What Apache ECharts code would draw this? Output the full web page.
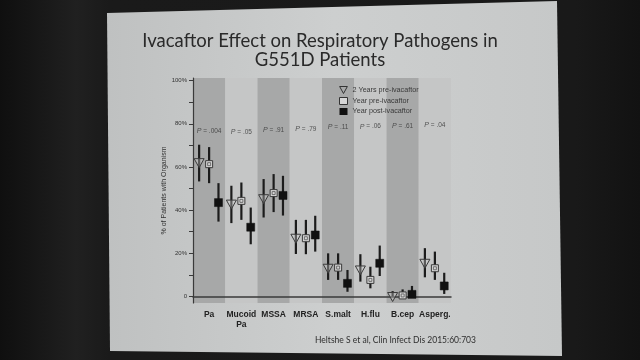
<!DOCTYPE html>
<html>
<head>
<meta charset="utf-8">
<script src="https://cdn.jsdelivr.net/npm/echarts@6/dist/echarts.min.js"></script>
<style>
html,body{margin:0;padding:0;background:#161616;}
#chart{width:640px;height:360px;}
</style>
</head>
<body>
<div id="chart"></div>
<script>
// ---- data ----
const categories = ['Pa', 'Mucoid\nPa', 'MSSA', 'MRSA', 'S.malt', 'H.flu', 'B.cep', 'Asperg.'];
const pLabels = ['.004', '.05', '.91', '.79', '.11', '.06', '.61', '.04'];
const pLabelY = [76.5, 76.2, 77.0, 77.6, 78.4, 78.7, 79.0, 79.5];

const seriesNames = ['2 Years pre-ivacaftor', 'Year pre-ivacaftor', 'Year post-ivacaftor'];

const pre2Mean = [62.0, 42.8, 45.3, 27.0, 13.1, 12.3, 0.0, 15.4];
const pre2Low  = [53.3, 34.0, 36.6, 19.7, 7.7, 6.9, 0.0, 8.9];
const pre2High = [70.3, 51.3, 54.4, 35.5, 20.0, 19.6, 2.5, 22.4];

const pre1Mean = [61.3, 44.3, 47.9, 27.0, 13.4, 7.7, 0.5, 13.1];
const pre1Low  = [52.5, 35.5, 39.1, 19.6, 7.7, 3.8, 0.0, 7.7];
const pre1High = [69.2, 52.8, 56.7, 35.5, 20.0, 13.8, 3.3, 20.8];

const postMean = [43.5, 32.1, 46.8, 28.5, 6.1, 15.4, 1.0, 4.9];
const postLow  = [34.7, 24.2, 37.5, 20.8, 2.2, 9.5, 0.0, 1.2];
const postHigh = [52.5, 41.2, 55.9, 37.4, 12.3, 23.6, 4.9, 11.0];

const yLabelValues = [0, 20, 40, 60, 80, 100];
const yTickValues = [0, 10, 20, 30, 40, 50, 60, 70, 80, 90, 100];

// ---- build ----
function rows(mean, low, high) {
  return mean.map((m, i) => [i, m, low[i], high[i]]);
}

function makeRender(kind, offsetFrac) {
  return function (params, api) {
    const i = api.value(0);
    const c = api.coord([i, api.value(1)]);
    const lo = api.coord([i, api.value(2)]);
    const hi = api.coord([i, api.value(3)]);
    const bw = api.size([1, 0])[0];
    const x = c[0] + offsetFrac * bw;
    const y = c[1];
    const children = [{
      type: 'line',
      shape: { x1: x, y1: hi[1], x2: x, y2: lo[1] },
      style: { stroke: '#1c1c1c', lineWidth: 2.2 }
    }];
    if (kind === 'tri') {
      children.push({
        type: 'polygon',
        shape: { points: [[x - 5, y - 4], [x + 5, y - 4], [x, y + 5]] },
        style: { fill: 'rgba(210,210,210,0.35)', stroke: '#3a3a3a', lineWidth: 1 }
      });
    } else if (kind === 'sq') {
      children.push({
        type: 'rect',
        shape: { x: x - 3.5, y: y - 3.5, width: 7, height: 7 },
        style: { fill: '#d6d6d6', stroke: '#3a3a3a', lineWidth: 1 }
      });
      children.push({
        type: 'rect',
        shape: { x: x - 1.5, y: y - 1.5, width: 3, height: 3 },
        style: { fill: 'none', stroke: '#555', lineWidth: 0.8 }
      });
    } else {
      children.push({
        type: 'rect',
        shape: { x: x - 4, y: y - 4, width: 8, height: 8 },
        style: { fill: '#111', stroke: '#111', lineWidth: 0.5 }
      });
    }
    return { type: 'group', children: children };
  };
}

const chart = echarts.init(document.getElementById('chart'), null, { renderer: 'canvas' });

const font = 'Liberation Sans, Arial, sans-serif';

const option = {
  backgroundColor: '#171717',
  animation: false,
  title: {
    text: 'Ivacaftor Effect on Respiratory Pathogens in\nG551D Patients',
    left: 'center',
    top: 27,
    textStyle: {
      fontFamily: 'Lato, sans-serif',
      fontWeight: 'normal',
      fontSize: 18.5,
      lineHeight: 19,
      color: '#2a2a2a'
    }
  },
  graphic: [
    {
      type: 'rect', z: -20, silent: true,
      shape: { x: 0, y: 0, width: 640, height: 360 },
      style: {
        fill: {
          type: 'linear', x: 0, y: 0, x2: 1, y2: 0,
          colorStops: [
            { offset: 0, color: '#0f0f0f' },
            { offset: 0.12, color: '#202020' },
            { offset: 0.17, color: '#1a1a1a' },
            { offset: 0.9, color: '#191919' },
            { offset: 1, color: '#121212' }
          ]
        }
      }
    },
    {
      type: 'polygon', z: -10, silent: true,
      shape: { points: [[107, 13], [557, 1], [562, 356], [110, 351]] },
      style: {
        fill: {
          type: 'linear', x: 0, y: 0, x2: 1, y2: 0,
          colorStops: [
            { offset: 0, color: '#bfc1c1' },
            { offset: 0.5, color: '#cdcfcf' },
            { offset: 1, color: '#c6c8c8' }
          ]
        }
      }
    },
    {
      type: 'text', z: 10, silent: true,
      left: 315, top: 336,
      style: {
        text: 'Heltshe S et al, Clin Infect Dis 2015:60:703',
        fontFamily: 'Lato, sans-serif',
        fontSize: 8.5,
        fill: '#2e2e2e'
      }
    }
  ],
  legend: {
    orient: 'vertical',
    left: 334,
    top: 81,
    itemWidth: 8,
    itemHeight: 7,
    itemGap: 3,
    textStyle: { fontFamily: font, fontSize: 7.2, color: '#3a3a3a' },
    data: [
      { name: seriesNames[0], icon: 'path://M0,0L10,0L5,9Z',
        itemStyle: { color: 'rgba(0,0,0,0)', borderColor: '#333', borderWidth: 1 } },
      { name: seriesNames[1], icon: 'rect',
        itemStyle: { color: '#d6d6d6', borderColor: '#333', borderWidth: 1 } },
      { name: seriesNames[2], icon: 'rect',
        itemStyle: { color: '#111', borderColor: '#111', borderWidth: 0 } }
    ]
  },
  grid: { left: 193, top: 78, width: 258, height: 225, containLabel: false },
  xAxis: {
    type: 'category',
    data: categories,
    axisLine: { show: true, lineStyle: { color: '#3a3a3a', width: 1.5 } },
    axisTick: { show: false, interval: 0 },
    axisLabel: {
      interval: 0,
      fontFamily: font, fontWeight: 'bold', fontSize: 8.5, color: '#222',
      margin: 7, lineHeight: 10
    },
    splitLine: { show: false },
    splitArea: { show: true, interval: 0, areaStyle: { color: ['#a7a8a8', '#c5c6c6'] } }
  },
  yAxis: {
    type: 'value',
    min: -3,
    max: 101.2,
    name: '% of Patients with Organism',
    nameLocation: 'middle',
    nameGap: 22,
    nameTextStyle: { fontFamily: font, fontSize: 7, color: '#333' },
    axisLine: { show: true, lineStyle: { color: '#3a3a3a', width: 1.2 } },
    axisTick: { show: true, length: 4, customValues: yTickValues, lineStyle: { color: '#3a3a3a' } },
    axisLabel: {
      customValues: yLabelValues,
      fontFamily: font, fontSize: 6, color: '#333', margin: 6,
      formatter: v => (v === 0 ? '0' : v + '%')
    },
    splitLine: { show: false }
  },
  series: [
    {
      name: seriesNames[0], type: 'custom', z: 5,
      itemStyle: { color: '#333' },
      renderItem: makeRender('tri', -0.31),
      encode: { x: 0, y: [1, 2, 3] },
      data: rows(pre2Mean, pre2Low, pre2High)
    },
    {
      name: seriesNames[1], type: 'custom', z: 5,
      itemStyle: { color: '#333' },
      renderItem: makeRender('sq', 0),
      encode: { x: 0, y: [1, 2, 3] },
      data: rows(pre1Mean, pre1Low, pre1High)
    },
    {
      name: seriesNames[2], type: 'custom', z: 5,
      itemStyle: { color: '#111' },
      renderItem: makeRender('filled', 0.29),
      encode: { x: 0, y: [1, 2, 3] },
      data: rows(postMean, postLow, postHigh)
    },
    {
      name: 'p', type: 'scatter', z: 6, silent: true,
      symbolSize: 0,
      label: {
        show: true, position: 'inside',
        formatter: p => '{i|P} = ' + pLabels[p.dataIndex],
        fontFamily: font, fontSize: 6.5, color: '#333',
        rich: { i: { fontStyle: 'italic', fontFamily: font, fontSize: 7, color: '#333' } }
      },
      data: pLabelY.map((v, i) => [i, v])
    }
  ]
};

chart.setOption(option);
</script>
</body>
</html>
